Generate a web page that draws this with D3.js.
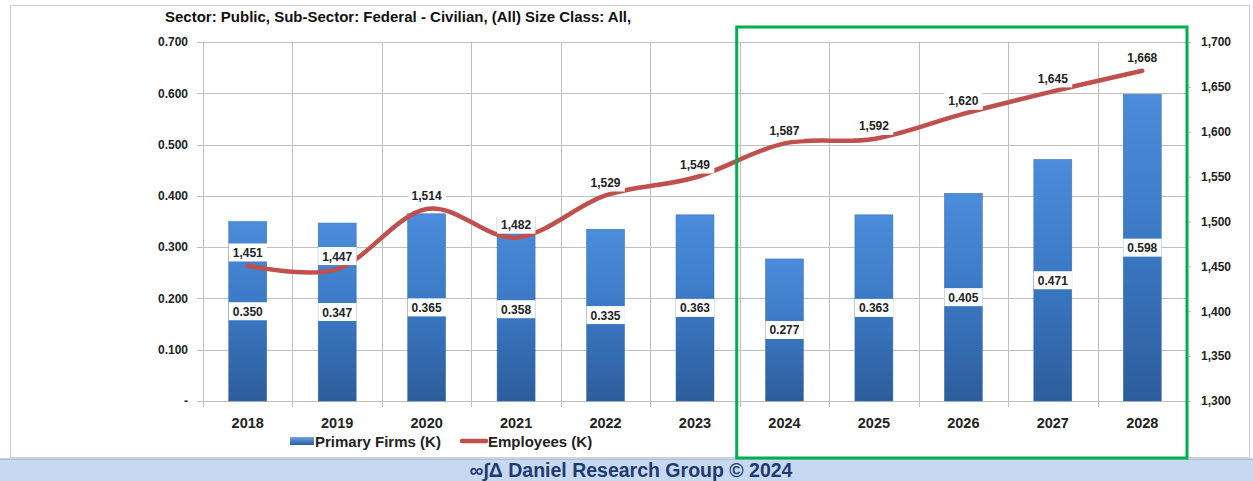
<!DOCTYPE html>
<html>
<head>
<meta charset="utf-8">
<script src="https://cdn.jsdelivr.net/npm/d3@7"></script>
<style>
  body { margin: 0; background: #fff; }
  text { font-family: "Liberation Sans", Arial, sans-serif; }
</style>
</head>
<body>
<div id="chart"></div>
<script>
const years = ["2018", "2019", "2020", "2021", "2022", "2023", "2024", "2025", "2026", "2027", "2028"];
const firms = [0.350, 0.347, 0.365, 0.358, 0.335, 0.363, 0.277, 0.363, 0.405, 0.471, 0.598];
const employees = [1451, 1447, 1514, 1482, 1529, 1549, 1587, 1592, 1620, 1645, 1668];
const leftTicks = [0, 0.1, 0.2, 0.3, 0.4, 0.5, 0.6, 0.7];
const rightTicks = [1300, 1350, 1400, 1450, 1500, 1550, 1600, 1650, 1700];
const forecastYears = ["2024", "2028"];

const W = 1253, H = 481;
const m = { left: 203, right: 1187, top: 42, bottom: 401 };

const svg = d3.select("#chart").append("svg")
    .attr("width", W)
    .attr("height", H);

const defs = svg.append("defs");
const grad = defs.append("linearGradient")
    .attr("id", "barGrad")
    .attr("x1", 0).attr("y1", 0).attr("x2", 0).attr("y2", 1);
grad.append("stop").attr("offset", "0%").attr("stop-color", "#4b8ddb");
grad.append("stop").attr("offset", "50%").attr("stop-color", "#3a78c3");
grad.append("stop").attr("offset", "100%").attr("stop-color", "#2d5d9b");

const legGrad = defs.append("linearGradient")
    .attr("id", "legGrad")
    .attr("x1", 0).attr("y1", 0).attr("x2", 0).attr("y2", 1);
legGrad.append("stop").attr("offset", "0%").attr("stop-color", "#6aa6e8");
legGrad.append("stop").attr("offset", "100%").attr("stop-color", "#2d5c99");

// outer chart border
svg.append("rect")
    .attr("x", 10.5).attr("y", 5.5)
    .attr("width", 1239).attr("height", 452)
    .attr("fill", "none")
    .attr("stroke", "#d0d0d0");

// footer band
svg.append("rect")
    .attr("x", 0).attr("y", 459)
    .attr("width", W).attr("height", H - 459)
    .attr("fill", "#c6d9f0");
svg.append("line")
    .attr("x1", 0).attr("x2", W)
    .attr("y1", 459).attr("y2", 459)
    .attr("stroke", "#9aa9bd");
svg.append("text")
    .attr("x", 631).attr("y", 477)
    .attr("text-anchor", "middle")
    .attr("font-size", 19.5)
    .attr("font-weight", "bold")
    .attr("fill", "#1f3a6e")
    .text("∞∫Δ Daniel Research Group © 2024");

// title
svg.append("text")
    .attr("x", 165).attr("y", 22)
    .attr("font-size", 15)
    .attr("font-weight", "bold")
    .attr("fill", "#111")
    .text("Sector: Public, Sub-Sector: Federal - Civilian, (All) Size Class: All,");

const x = d3.scaleBand()
    .domain(years)
    .range([m.left, m.right])
    .paddingInner(0)
    .paddingOuter(0);

const y = d3.scaleLinear()
    .domain([0, 0.7])
    .range([m.bottom, m.top]);

const y2 = d3.scaleLinear()
    .domain([1300, 1700])
    .range([m.bottom, m.top]);

// gridlines
const grid = svg.append("g").attr("stroke", "#bfbfbf").attr("stroke-width", 1);
grid.selectAll("line.h")
    .data(leftTicks)
    .join("line")
    .attr("class", "h")
    .attr("x1", m.left - 6).attr("x2", m.right)
    .attr("y1", d => Math.round(y(d)) + 0.5)
    .attr("y2", d => Math.round(y(d)) + 0.5);
grid.selectAll("line.v")
    .data(years)
    .join("line")
    .attr("class", "v")
    .attr("x1", d => Math.round(x(d)) + 0.5)
    .attr("x2", d => Math.round(x(d)) + 0.5)
    .attr("y1", m.top)
    .attr("y2", m.bottom + 6);

// left axis
const leftAxis = svg.append("g")
    .attr("transform", `translate(${m.left},0)`)
    .call(d3.axisLeft(y)
        .tickValues(leftTicks)
        .tickSize(0)
        .tickPadding(15)
        .tickFormat(d => d === 0 ? "-" : d3.format(".3f")(d)));
leftAxis.select(".domain").attr("stroke", "#bfbfbf");
leftAxis.selectAll("text")
    .attr("font-size", 12)
    .attr("font-weight", "bold")
    .attr("fill", "#222")
    .attr("font-family", "Liberation Sans, Arial, sans-serif");

// right axis
const rightAxis = svg.append("g")
    .attr("transform", `translate(${m.right},0)`)
    .call(d3.axisRight(y2)
        .tickValues(rightTicks)
        .tickSize(4)
        .tickPadding(10)
        .tickFormat(d3.format(",")));
rightAxis.select(".domain").attr("stroke", "#bfbfbf");
rightAxis.selectAll(".tick line").attr("stroke", "#bfbfbf");
rightAxis.selectAll("text")
    .attr("font-size", 12)
    .attr("font-weight", "bold")
    .attr("fill", "#222")
    .attr("font-family", "Liberation Sans, Arial, sans-serif");

// x axis labels
svg.append("g")
    .selectAll("text")
    .data(years)
    .join("text")
    .attr("x", d => x(d) + x.bandwidth() / 2)
    .attr("y", 428)
    .attr("text-anchor", "middle")
    .attr("font-size", 14.5)
    .attr("font-weight", "bold")
    .attr("fill", "#222")
    .text(d => d);

// bars
const barW = 38;
svg.append("g")
    .selectAll("rect")
    .data(firms)
    .join("rect")
    .attr("x", (d, i) => x(years[i]) + x.bandwidth() / 2 - barW / 2)
    .attr("y", d => y(d))
    .attr("width", barW)
    .attr("height", d => y(0) - y(d))
    .attr("fill", "url(#barGrad)")
    .attr("stroke", "#3a6fae")
    .attr("stroke-width", 0.5);

// employees line
const line = d3.line()
    .x((d, i) => x(years[i]) + x.bandwidth() / 2)
    .y(d => y2(d))
    .curve(d3.curveCatmullRom.alpha(0));
svg.append("path")
    .datum(employees)
    .attr("d", line)
    .attr("fill", "none")
    .attr("stroke", "#c0504d")
    .attr("stroke-width", 4.5)
    .attr("stroke-linecap", "round");

// label with white box
function boxLabel(g, cx, cy, txt) {
    const t = g.append("text")
        .attr("x", cx).attr("y", cy + 4.5)
        .attr("text-anchor", "middle")
        .attr("font-size", 12)
        .attr("font-weight", "bold")
        .attr("fill", "#222")
        .text(txt);
    const bb = t.node().getBBox();
    g.insert("rect", "text")
        .attr("x", bb.x - 4).attr("y", cy - 9)
        .attr("width", bb.width + 8).attr("height", 18)
        .attr("fill", "#fff");
}

const labels = svg.append("g");
firms.forEach((d, i) => {
    const g = labels.append("g");
    boxLabel(g, x(years[i]) + x.bandwidth() / 2, (y(d) + y(0)) / 2, d3.format(".3f")(d));
});
employees.forEach((d, i) => {
    const g = labels.append("g");
    boxLabel(g, x(years[i]) + x.bandwidth() / 2, y2(d) - 13, d3.format(",")(d));
});

// forecast box
svg.append("rect")
    .attr("x", x(forecastYears[0]) - 3)
    .attr("y", 27)
    .attr("width", x(forecastYears[1]) + x.bandwidth() - x(forecastYears[0]) + 3)
    .attr("height", 431)
    .attr("fill", "none")
    .attr("stroke", "#00b050")
    .attr("stroke-width", 3);

// legend
const legend = svg.append("g").attr("transform", "translate(290,441)");
legend.append("rect")
    .attr("x", 0).attr("y", -4)
    .attr("width", 24).attr("height", 8)
    .attr("fill", "url(#legGrad)");
legend.append("text")
    .attr("x", 25).attr("y", 5.5)
    .attr("font-size", 15)
    .attr("font-weight", "bold")
    .attr("fill", "#222")
    .text("Primary Firms (K)");
legend.append("line")
    .attr("x1", 172).attr("x2", 196)
    .attr("y1", 0).attr("y2", 0)
    .attr("stroke", "#c0504d")
    .attr("stroke-width", 4.5)
    .attr("stroke-linecap", "round");
legend.append("text")
    .attr("x", 198).attr("y", 5.5)
    .attr("font-size", 15)
    .attr("font-weight", "bold")
    .attr("fill", "#222")
    .text("Employees (K)");
</script>
</body>
</html>
